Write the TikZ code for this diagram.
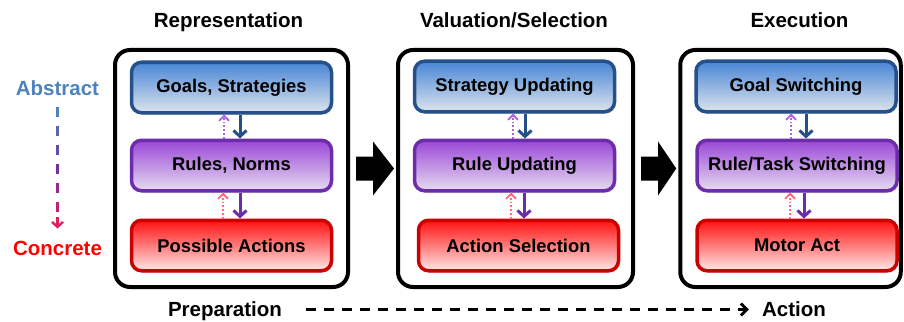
\documentclass[tikz,border=0pt]{standalone}
\usepackage{fontspec}
\setmainfont{Liberation Sans}
\usetikzlibrary{arrows.meta,shadows,calc}

\definecolor{bluebd}{HTML}{26508A}
\definecolor{bluetop}{HTML}{4886D6}
\definecolor{bluemid}{HTML}{86AADC}
\definecolor{bluebot}{HTML}{DDE3EC}
\definecolor{purbd}{HTML}{6C2EA8}
\definecolor{purtop}{HTML}{9A46D8}
\definecolor{purmid}{HTML}{B98ADF}
\definecolor{purbot}{HTML}{E6DCF0}
\definecolor{redbd}{HTML}{CC0000}
\definecolor{redtop}{HTML}{FF1010}
\definecolor{redmid}{HTML}{FF7070}
\definecolor{redbot}{HTML}{FFE8E8}
\definecolor{absblue}{HTML}{4F81BD}
\definecolor{midpurple}{HTML}{7030A0}
\definecolor{lowcrimson}{HTML}{E0205A}
\definecolor{conred}{HTML}{FF0000}
\definecolor{uplilac}{HTML}{B060E4}
\definecolor{uppink}{HTML}{FF6A80}

\begin{document}
\begin{tikzpicture}[x=1pt,y=-1pt,
  titletext/.style={inner sep=0pt,anchor=base,font=\fontsize{20.5}{22}\selectfont\bfseries},
  stage/.style={draw=black,line width=4pt,rounded corners=15pt,
    minimum height=237pt,inner sep=0pt},
  level/.style={rounded corners=10pt,line width=3.5pt,minimum width=200pt,
    minimum height=50.5pt,inner sep=0pt,align=center,
    font=\fontsize{18.4}{20}\selectfont\bfseries,
    drop shadow={opacity=0.25,shadow xshift=1.5pt,shadow yshift=-2pt}},
  goal/.style={level,draw=bluebd,top color=bluetop,middle color=bluemid,bottom color=bluebot},
  rule/.style={level,draw=purbd,top color=purtop,middle color=purmid,bottom color=purbot},
  act/.style={level,draw=redbd,top color=redtop,middle color=redmid,bottom color=redbot},
  down/.style={line width=3pt,-{Straight Barb[length=6pt,width=13pt]}},
  upward/.style={line width=1.8pt,dotted,-{Straight Barb[length=5pt,width=10pt]}},
  bigarrow/.style={fill=black}]

\useasboundingbox (0,0) rectangle (904,321);

% column headings
\node[titletext] (t1) at (228.5,28) {Representation};
\node[titletext] (t2) at (514,28) {Valuation/Selection};
\node[titletext] (t3) at (799.5,28) {Execution};

% the three stages
\node[stage,minimum width=233pt] (s1) at (231.5,168.5) {};
\node[stage,minimum width=235pt] (s2) at (515.5,168.5) {};
\node[stage,minimum width=220.5pt] (s3) at (790.5,168.5) {};

% levels inside each stage
\node[goal] (g1) at (231.5,87.5) {Goals, Strategies};
\node[rule] (r1) at (231.5,165.5) {Rules, Norms};
\node[act]  (a1) at (231.5,245.5) {Possible Actions};

\node[goal] (g2) at (514.5,86.5) {Strategy Updating};
\node[rule] (r2) at (514.5,165.5) {Rule Updating};
\node[act]  (a2) at (518.5,245.5) {Action Selection};

\node[goal] (g3) at (796,86.5) {Goal Switching};
\node[rule] (r3) at (797,165.5) {Rule/Task Switching};
\node[act]  (a3) at (797,245.5) {Motor Act};

% top-down (solid) and bottom-up (dotted) links
\draw[down,bluebd] ([xshift=8.5pt]g1.south) -- ([xshift=8.5pt]r1.north);
\draw[down,purbd]  ([xshift=8.5pt]r1.south) -- ([xshift=8.5pt]a1.north);
\draw[upward,uplilac] ([xshift=-7.5pt]r1.north) -- ([xshift=-7.5pt]g1.south);
\draw[upward,uppink]  ([xshift=-8.5pt]a1.north) -- ([xshift=-8.5pt]r1.south);

\draw[down,bluebd] ([xshift=10.5pt]g2.south) -- ([xshift=10.5pt]r2.north);
\draw[down,purbd]  ([xshift=9.5pt]r2.south) -- ([xshift=5.5pt]a2.north);
\draw[upward,uplilac] ([xshift=-1.5pt]r2.north) -- ([xshift=-1.5pt]g2.south);
\draw[upward,uppink]  ([xshift=-7.5pt]a2.north) -- ([xshift=-3.5pt]r2.south);

\draw[down,bluebd] ([xshift=10pt]g3.south) -- ([xshift=9pt]r3.north);
\draw[down,purbd]  ([xshift=7pt]r3.south) -- ([xshift=7pt]a3.north);
\draw[upward,uplilac] ([xshift=-6pt]r3.north) -- ([xshift=-5pt]g3.south);
\draw[upward,uppink]  ([xshift=-7pt]a3.north) -- ([xshift=-7pt]r3.south);

% block arrows between stages
\foreach \from/\to in {s1/s2,s2/s3}{
  \fill[bigarrow] ($(\from.east)+(6,-12)$) -- ($(\from.east)+(23,-12)$)
    -- ($(\from.east)+(23,-27)$) -- ($(\to.west)+(-2,0)$)
    -- ($(\from.east)+(23,27)$) -- ($(\from.east)+(23,12)$)
    -- ($(\from.east)+(6,12)$) -- cycle;
}

% abstract -> concrete axis
\node[titletext,text=absblue] (abs) at (57.5,95.5) {Abstract};
\node[titletext,text=conred]  (con) at (57.5,255.5) {Concrete};
\foreach \k in {0,...,5}{
  \pgfmathsetmacro{\t}{\k/6}
  \pgfmathsetmacro{\pa}{min(100,200*\t)}
  \pgfmathsetmacro{\pb}{max(0,200*\t-100)}
  \draw[line width=2.6pt,draw=lowcrimson!\pb!midpurple!\pa!absblue]
    ($(abs.base)+(0,11.5+19*\k)$) -- ($(abs.base)+(0,21.5+19*\k)$);
}
\draw[line width=2.4pt,lowcrimson,-{Straight Barb[length=5pt,width=11pt]}]
  ($(abs.base)+(0,121.5)$) -- ($(con.base)+(0,-27)$);

% preparation -> action axis
\node[titletext] (prep) at (225,316) {Preparation};
\node[titletext] (actn) at (794,316) {Action};
\draw[line width=2.8pt,dash pattern=on 10pt off 8pt,
      -{Straight Barb[length=6pt,width=12pt]}]
  ($(prep.base east)+(24,-6.5)$) -- ($(actn.base west)+(-13,-6.5)$);

\end{tikzpicture}
\end{document}
